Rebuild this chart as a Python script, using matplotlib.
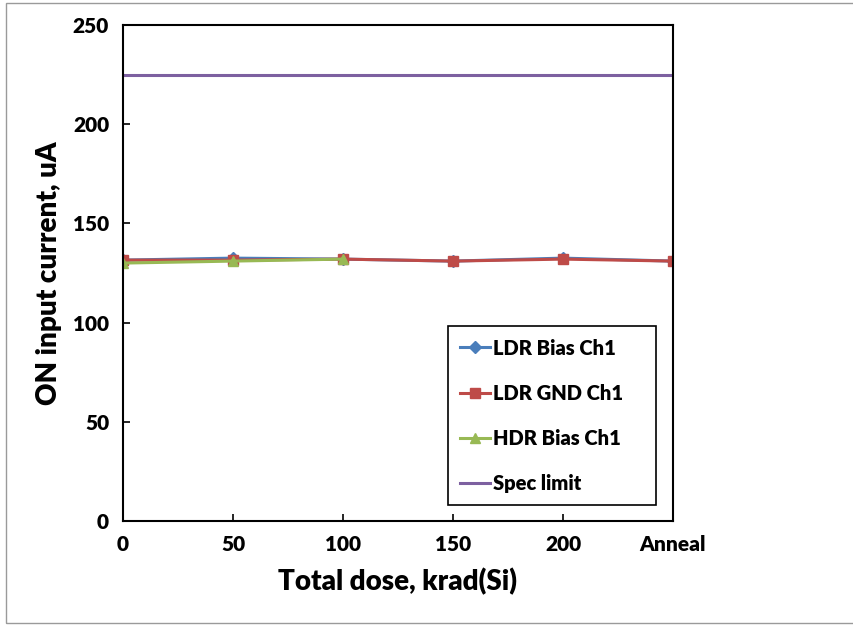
import matplotlib
matplotlib.use("Agg")
from matplotlib import pyplot as plt
from matplotlib.patches import Rectangle

plt.rcParams['font.family'] = ['Lato', 'DejaVu Sans']
plt.rcParams['font.weight'] = 'heavy'

# Data
categories = ['0', '50', '100', '150', '200', 'Anneal']
ldr_bias = [131.5, 132.5, 132.0, 131.0, 132.5, 131.0]
ldr_gnd = [131.5, 131.5, 132.0, 131.0, 132.0, 131.0]
hdr_bias = [130.0, 131.0, 132.0]
spec_limit = 225

x = list(range(len(categories)))

fig = plt.figure(figsize=(8.54, 6.25), dpi=100)
ax = fig.add_axes([123 / 854, 1 - 521 / 625, 550 / 854, 496 / 625])

ax.plot(x, ldr_bias, color='#4A7EBB', marker='D', markersize=6, lw=2.2, label='LDR Bias Ch1')
ax.plot(x, ldr_gnd, color='#BE4B48', marker='s', markersize=7, lw=2.2, label='LDR GND Ch1')
ax.plot(x[:len(hdr_bias)], hdr_bias, color='#98B954', marker='^', markersize=7, lw=2.2, label='HDR Bias Ch1')
ax.plot([x[0], x[-1]], [spec_limit, spec_limit], color='#7D60A0', lw=2.2, label='Spec limit')

ax.set_xlim(0, len(categories) - 1)
ax.set_ylim(0, 250)
ax.set_xticks(x)
ax.set_xticklabels(categories)
ax.set_yticks(range(0, 251, 50))
ax.tick_params(direction='in', length=5, width=1.2, labelsize=15, pad=10)
for s in ax.spines.values():
    s.set_linewidth(1.5)

ax.set_xlabel('Total dose, krad(Si)', fontsize=20, fontweight='heavy', labelpad=10)
ax.set_ylabel('ON input current, uA', fontsize=20, fontweight='heavy', labelpad=8)

leg = ax.legend(loc='lower left', bbox_to_anchor=(0.591, 0.032, 0.378, 0.36),
                mode='expand', fontsize=14.5,
                handlelength=1.5, labelspacing=1.3, borderpad=0.6,
                handletextpad=0.15, fancybox=False, framealpha=1,
                edgecolor='black', borderaxespad=0)
leg.get_frame().set_linewidth(1.2)

# outer chart border
fig.patches.append(Rectangle((6 / 854, 1 - 623 / 625), 2, 620 / 625,
                             transform=fig.transFigure, fill=False,
                             edgecolor='#9a9a9a', lw=1))

fig.savefig('out.png', dpi=100)
